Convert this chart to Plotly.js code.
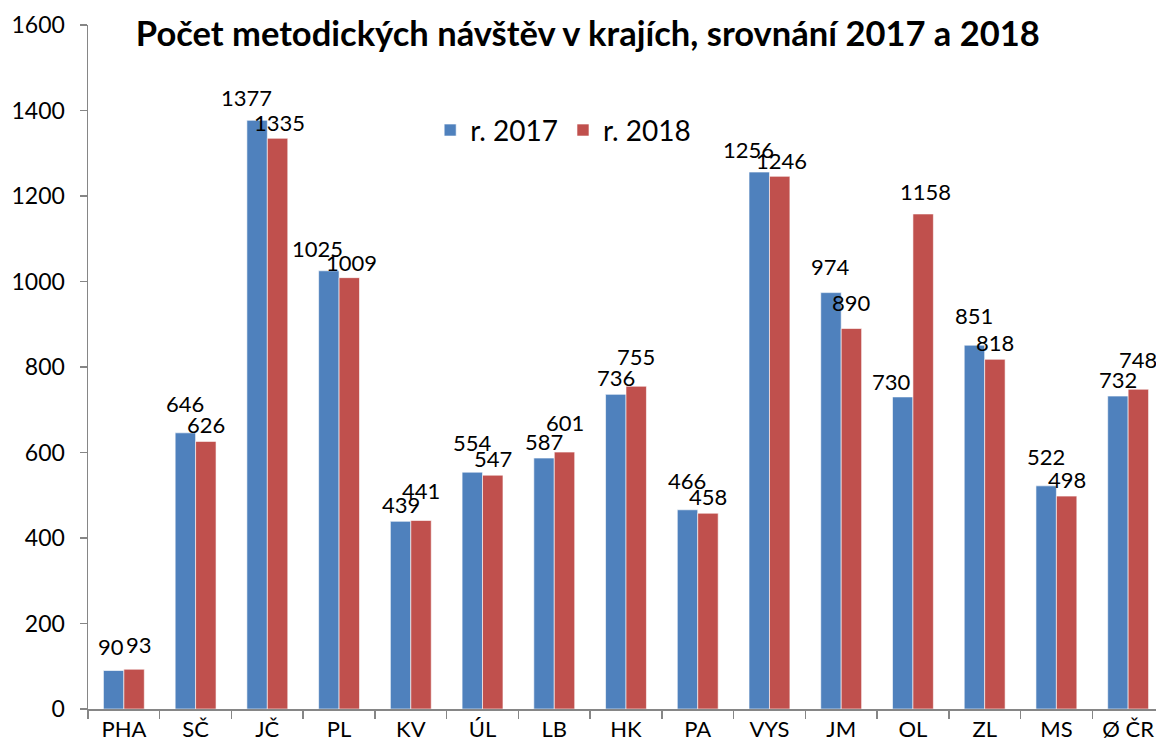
<!DOCTYPE html>
<html><head><meta charset="utf-8">
<script src="https://cdn.plot.ly/plotly-3.0.1.min.js"></script>
<style>html,body{margin:0;padding:0;overflow:hidden;background:#fff}</style>
</head><body><div id="chart"></div>
<script>
const categories = ["PHA","SČ","JČ","PL","KV","ÚL","LB","HK","PA","VYS","JM","OL","ZL","MS","Ø ČR"];
const values2017 = [90,646,1377,1025,439,554,587,736,466,1256,974,730,851,522,732];
const values2018 = [93,626,1335,1009,441,547,601,755,458,1246,890,1158,818,498,748];
const seriesNames = ["r. 2017","r. 2018"];
const yTicks = [0,200,400,600,800,1000,1200,1400,1600];

const FONT = "Lato, 'Open Sans', sans-serif";
const blue = "#4F81BD", red = "#C0504D";
const PLOT_H = 684, Y_MAX = 1600;
const pxPerUnit = PLOT_H / Y_MAX;

const traces = [
  {type:"bar", name:seriesNames[0], x:categories, y:values2017,
   marker:{color:blue, line:{color:"rgba(255,255,255,0.6)", width:1}}},
  {type:"bar", name:seriesNames[1], x:categories, y:values2018,
   marker:{color:red, line:{color:"rgba(255,255,255,0.6)", width:1}}}
];

// label placement: centred on each bar, nudged apart when the pair collides
const annotations = [];
categories.forEach((c,i)=>{
  const v1 = values2017[i], v2 = values2018[i];
  const s1 = String(v1), s2 = String(v2);
  const len = Math.max(s1.length, s2.length);
  const dpx = (v1 - v2) * pxPerUnit;
  let x1 = -10.3, x2 = 10.3, y1 = 11, y2 = 11;
  if (len <= 2) { x1 -= 3; x2 += 5; y1 = 9; y2 = 9; }
  else if (len >= 4) {
    x1 -= 11; x2 += 2;
    if (dpx >= 0) { y1 = 7; y2 = 0; } else { y1 = 0; y2 = 7; }
  } else if (Math.abs(dpx) < 22) {
    if (dpx >= 0) { y1 = 14; y2 = 1; } else { y1 = 1; y2 = 14; }
  }
  annotations.push({x:c, y:v1, xref:"x", yref:"y", text:s1,
    showarrow:false, xanchor:"center", yanchor:"bottom", xshift:x1, yshift:y1,
    font:{family:FONT, size:22, color:"#000"}});
  annotations.push({x:c, y:v2, xref:"x", yref:"y", text:s2,
    showarrow:false, xanchor:"center", yanchor:"bottom", xshift:x2, yshift:y2,
    font:{family:FONT, size:22, color:"#000"}});
});

const layout = {
  width:1164, height:753,
  margin:{l:88, r:0, t:25, b:44},
  paper_bgcolor:"#fff", plot_bgcolor:"#fff",
  font:{family:FONT, color:"#000"},
  barmode:"group", bargap:0.43, bargroupgap:0,
  title:{text:"<b>Počet metodických návštěv v krajích, srovnání 2017 a 2018</b>",
    font:{family:FONT, size:34.5, color:"#000"},
    xref:"container", x:0.505, xanchor:"center", yref:"container", y:0.955, yanchor:"middle"},
  xaxis:{type:"category", showline:true, linecolor:"#868686", linewidth:1.5,
    ticks:"outside", tickson:"boundaries", ticklen:8, tickcolor:"#868686", tickwidth:1.5,
    tickfont:{family:FONT, size:22, color:"#000"}, showgrid:false, zeroline:false, fixedrange:true},
  yaxis:{range:[0,Y_MAX], tickvals:yTicks, showline:true, linecolor:"#868686", linewidth:1.5,
    ticks:"outside", ticklen:7, tickcolor:"#868686", tickwidth:1.5,
    tickfont:{family:FONT, size:23, color:"#000"}, showgrid:false, zeroline:false, ticklabelstandoff:10},
  showlegend:true,
  legend:{orientation:"h", x:0.318, xanchor:"left", y:0.846, yanchor:"middle",
    font:{family:FONT, size:28, color:"#000"}, bgcolor:"rgba(0,0,0,0)", itemwidth:30},
  annotations:annotations
};

Plotly.newPlot("chart", traces, layout, {displayModeBar:false, staticPlot:true});
</script></body></html>
